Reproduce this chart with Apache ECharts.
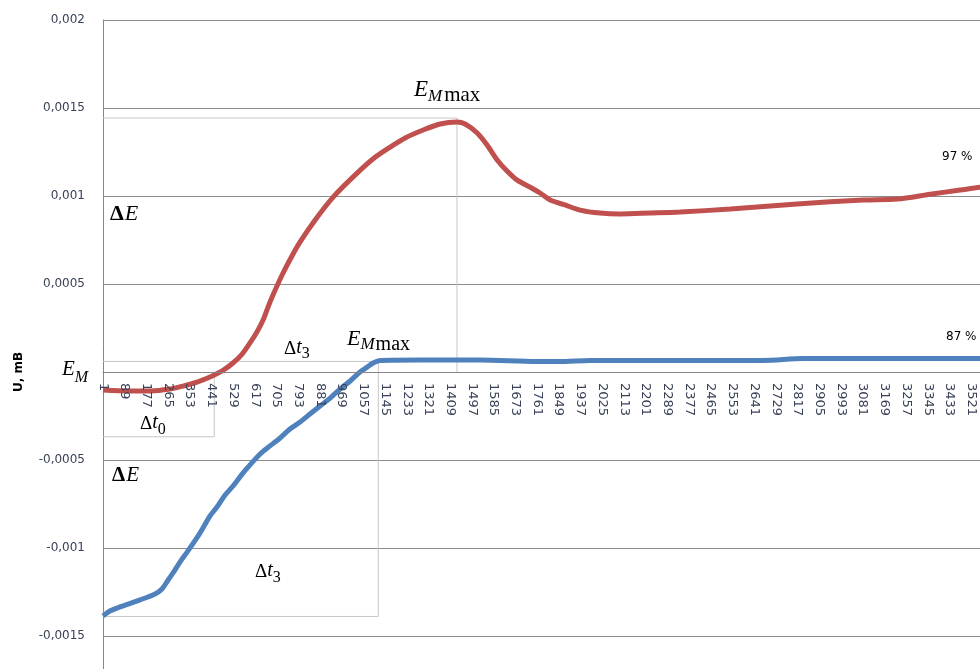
<!DOCTYPE html>
<html><head><meta charset="utf-8">
<script src="https://cdn.jsdelivr.net/npm/echarts@6/dist/echarts.min.js"></script>
<style>html,body{margin:0;padding:0;background:#fff}#c{width:980px;height:669px}</style>
</head><body><div id="c"></div>
<script>
// ---- data (sample number, voltage) ----
const redSamples = [1,110,192,273,325,382,435,484,528,565,597,625,650,670,690,727,767,800,861,934,1031,1104,1165,1226,1299,1368,1436,1469,1518,1558,1599,1639,1680,1733,1773,1814,1874,1935,2016,2098,2219,2341,2544,2815,3083,3221,3354,3476,3557,3610];
const redValues = [-0.000102,-0.000108,-0.000108,-0.000097,-0.00008,-0.000057,-0.000028,0.000006,0.000051,0.000102,0.000165,0.000227,0.000295,0.000369,0.000437,0.000551,0.000659,0.000739,0.000864,0.000994,0.00113,0.00122,0.001278,0.00133,0.001375,0.001409,0.00142,0.001409,0.001358,0.00129,0.001205,0.001142,0.00109,0.00105,0.001017,0.000977,0.000949,0.00092,0.000903,0.000898,0.000903,0.000909,0.000926,0.000955,0.000977,0.000983,0.00101,0.001034,0.00105,0.001063];
const blueSamples = [1,29,70,151,212,240,265,285,313,342,394,435,463,496,528,565,597,638,678,719,759,800,840,881,922,962,1003,1043,1072,1096,1124,1286,1530,1761,1850,1976,2100,2422,2677,2840,3030,3233,3557,3610];
const blueValues = [-0.001386,-0.001358,-0.001335,-0.001295,-0.001261,-0.001233,-0.001182,-0.001142,-0.00108,-0.001023,-0.000915,-0.000818,-0.000767,-0.000699,-0.000648,-0.00058,-0.000528,-0.000466,-0.00042,-0.000375,-0.000324,-0.000284,-0.000239,-0.000193,-0.000148,-0.000097,-0.000051,0,0.000028,0.000051,0.000066,0.000068,0.000068,0.00006,0.00006,0.000066,0.000066,0.000066,0.000066,0.000076,0.000076,0.000076,0.000076,0.000076];
// x tick labels: 1, 89, 177, ... (step 88)
const xTickFirst = 1;
const xTickStep = 88;
const xTickCount = 42;
// y ticks
const yMin = -0.002, yMax = 0.002, yStep = 0.0005;
// annotation guide levels (sample, value)
const redPeak = [1436, 0.001443];
const blueTop = [1117, 0.000060];
const blueBottom = [1117, -0.001389];
const t0Box = [452, -0.000368];
const pctLabels = ['97 %', '87 %'];

const GRID = { left: 103, top: 20, width: 890, height: 704 };

const toXY = (s, v) => s.map((x, i) => [x - xTickFirst, v[i]]);
const seg = (a, b) => [[a[0] - xTickFirst, a[1]], [b[0] - xTickFirst, b[1]]];
const guides = [
  seg([1, redPeak[1]], redPeak),
  seg(redPeak, [redPeak[0], 0]),
  seg([1, blueTop[1]], blueTop),
  seg(blueTop, blueBottom),
  seg([1, blueBottom[1]], blueBottom),
  seg([t0Box[0], 0], t0Box),
  seg([1, t0Box[1]], t0Box)
];

const mctx = document.createElement('canvas').getContext('2d');
function mathLabel(x, baseline, parts) {
  const els = [];
  let cx = x;
  parts.forEach(p => {
    const [t, size, st, dy, dx] = p;
    cx += dx || 0;
    const font = (st === 'i' ? 'italic ' : '') + (st === 'b' ? 'bold ' : '') + size + 'px "Liberation Serif"';
    mctx.font = font;
    els.push({ type: 'text', x: cx, y: baseline + (dy || 0) - 0.34 * size, silent: true, z: 100,
      style: { text: t, font: font, fill: '#000', align: 'left', verticalAlign: 'middle', textAlign: 'left', textVerticalAlign: 'middle' } });
    cx += mctx.measureText(t).width;
  });
  return els;
}
const graphics = [].concat(
  mathLabel(414, 98, [['E', 23, 'i'], ['M', 17, 'i', 4], ['max', 21, 'n', 5, 2]]),
  mathLabel(347, 347, [['E', 22, 'i'], ['M', 17, 'i', 3], ['max', 20, 'n', 5, 1]]),
  mathLabel(62, 377, [['E', 21, 'i'], ['M', 16, 'i', 6]]),
  mathLabel(110, 222, [['Δ', 22, 'b'], ['E', 22, 'i', 0, 1]]),
  mathLabel(112, 483, [['Δ', 21, 'b'], ['E', 21, 'i', 0, 1]]),
  mathLabel(284, 355, [['Δ', 19, 'n'], ['t', 20, 'i'], ['3', 16, 'n', 4]]),
  mathLabel(140, 430, [['Δ', 19, 'n'], ['t', 20, 'i'], ['0', 16, 'n', 5]]),
  mathLabel(255, 578, [['Δ', 19, 'n'], ['t', 20, 'i'], ['3', 16, 'n', 5]]),
  [
    { type: 'text', x: 942, y: 157, silent: true, z: 100, style: { text: pctLabels[0], font: '12px "DejaVu Sans"', fill: '#000', verticalAlign: 'middle', textVerticalAlign: 'middle' } },
    { type: 'text', x: 946, y: 337, silent: true, z: 100, style: { text: pctLabels[1], font: '12px "DejaVu Sans"', fill: '#000', verticalAlign: 'middle', textVerticalAlign: 'middle' } }
  ]
);

const fmtY = v => {
  const r = parseFloat(v.toFixed(6));
  if (r === 0) return '';
  return String(r).replace('.', ',');
};

const series = guides.map(g => ({
  type: 'line', data: g, showSymbol: false, silent: true, z: 1,
  lineStyle: { color: '#c6c6c6', width: 1 }, animation: false
}));
series.push({
  type: 'line', name: 'E', data: toXY(redSamples, redValues), showSymbol: false, smooth: 0.3, z: 3,
  lineStyle: { color: '#c0504d', width: 5 }, itemStyle: { color: '#c0504d' }, animation: false
});
series.push({
  type: 'line', name: 'B', data: toXY(blueSamples, blueValues), showSymbol: false, smooth: 0.3, z: 4,
  lineStyle: { color: '#4f81bd', width: 5 }, itemStyle: { color: '#4f81bd' }, animation: false
});

// place the category axis where y = 0 (Excel crosses at zero)
const zeroOffset = -GRID.height * (0 - yMin) / (yMax - yMin);

const chart = echarts.init(document.getElementById('c'), null, { renderer: 'canvas' });
chart.setOption({
  backgroundColor: '#fff',
  animation: false,
  grid: Object.assign({ containLabel: false, outerBoundsMode: 'none' }, GRID),
  xAxis: {
    type: 'value', min: 0, max: xTickStep * (xTickCount - 1), interval: xTickStep,
    position: 'bottom', offset: zeroOffset, z: 10,
    axisLine: { show: true, onZero: false, lineStyle: { color: '#868686', width: 1 } },
    axisTick: { show: false },
    splitLine: { show: false },
    axisLabel: { rotate: -90, margin: 11, fontSize: 13, fontFamily: 'DejaVu Sans', color: '#3a4258',
      formatter: v => String(v + xTickFirst), showMaxLabel: false }
  },
  yAxis: {
    type: 'value', min: yMin, max: yMax, interval: yStep,
    name: 'U, mB', nameLocation: 'middle', nameGap: 78,
    nameTextStyle: { fontSize: 12, fontWeight: 'bold', fontFamily: 'DejaVu Sans', color: '#000' },
    axisLine: { show: true, onZero: false, lineStyle: { color: '#868686', width: 1 } },
    axisTick: { show: false },
    splitLine: { show: true, lineStyle: { color: '#8c8c8c', width: 1 } },
    axisLabel: { margin: 18, fontSize: 12, fontFamily: 'DejaVu Sans', color: '#3a4258', formatter: fmtY }
  },
  series: series,
  graphic: graphics
});
</script>
</body></html>
